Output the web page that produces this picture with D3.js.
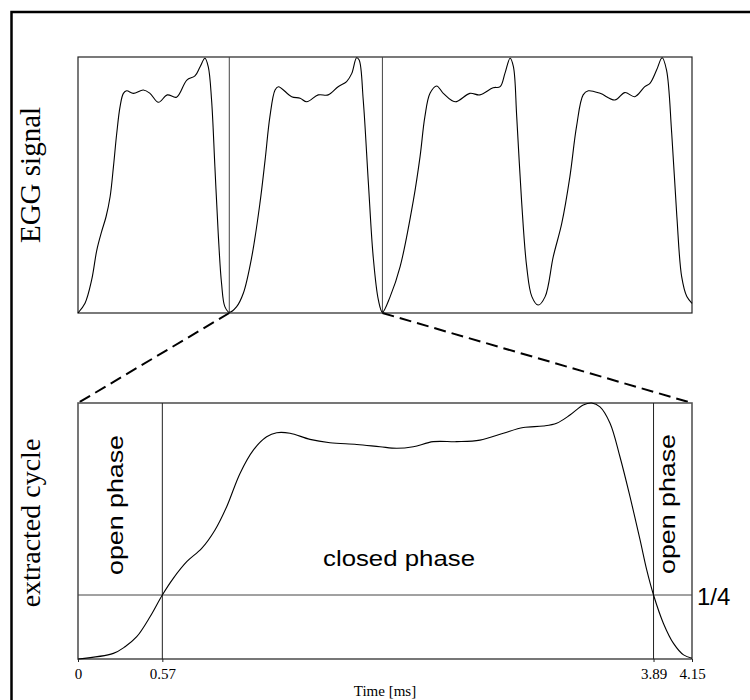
<!DOCTYPE html>
<html>
<head>
<meta charset="utf-8">
<script src="https://cdn.jsdelivr.net/npm/d3@7"></script>
<style>
  html, body { margin: 0; padding: 0; background: #fff; }
  svg { display: block; }
</style>
</head>
<body>
<svg id="chart" width="750" height="700"></svg>
<script>
// ---------- DATA ----------
// Top panel: EGG signal, time in ms (approx), normalized amplitude
const eggTime = [0,0.19,0.37,0.51,0.64,0.76,0.87,0.96,1.05,1.14,1.23,1.32,1.50,1.77,1.95,2.18,2.42,2.67,2.95,3.17,3.31,3.44,3.53,3.62,3.71,3.80,3.89,3.98,4.10,
  4.30,4.48,4.71,4.93,5.07,5.20,5.34,5.43,5.79,6.02,6.20,6.51,6.78,7.05,7.28,7.42,7.55,7.62,7.73,7.87,8.00,8.14,8.25,
  8.46,8.73,9.09,9.27,9.40,9.54,9.72,9.90,10.22,10.62,10.89,11.25,11.44,11.57,11.71,11.80,11.89,12.02,12.16,12.30,12.47,12.66,12.88,13.11,13.33,13.51,13.69,13.83,14.15,14.55,14.82,15.09,15.36,15.50,15.68,15.83,15.95,16.09,16.23,16.36,16.50,16.64];
const eggValue = [0,0.038,0.129,0.246,0.318,0.376,0.454,0.571,0.702,0.806,0.858,0.868,0.858,0.871,0.858,0.823,0.852,0.843,0.910,0.926,0.962,0.995,0.962,0.832,0.571,0.311,0.116,0.025,0.003,
  0.025,0.077,0.220,0.428,0.597,0.766,0.871,0.884,0.845,0.839,0.825,0.852,0.852,0.884,0.904,0.936,0.997,0.988,0.832,0.507,0.220,0.051,0.003,
  0.064,0.181,0.441,0.611,0.766,0.858,0.887,0.858,0.825,0.858,0.852,0.880,0.884,0.936,0.995,0.962,0.766,0.441,0.181,0.064,0.031,0.064,0.220,0.350,0.532,0.728,0.852,0.868,0.858,0.832,0.861,0.845,0.884,0.897,0.949,0.997,0.949,0.702,0.376,0.142,0.064,0.038];
const eggDomain = [0, 16.64];
const cycleBounds = [4.10, 8.25];

// Bottom panel: extracted cycle
const cycTime = [0,0.239,0.318,0.397,0.487,0.57,0.644,0.735,0.836,0.926,1.005,1.095,1.185,1.275,1.343,1.433,1.568,1.703,1.884,2.041,2.154,2.266,2.401,2.56,2.717,2.875,3.01,3.145,3.235,3.325,3.415,3.472,3.528,3.596,3.663,3.731,3.799,3.844,3.89,3.957,4.025,4.093,4.15];
const cycValue = [0,0.022,0.048,0.087,0.165,0.25,0.315,0.38,0.432,0.504,0.595,0.725,0.816,0.868,0.884,0.882,0.858,0.845,0.838,0.829,0.823,0.829,0.849,0.849,0.855,0.882,0.904,0.91,0.921,0.953,0.992,1.0,0.985,0.921,0.79,0.634,0.465,0.348,0.25,0.139,0.061,0.016,0.003];
const cycDomain = [0, 4.15];
const tickValues = [0, 0.57, 3.89, 4.15];
const tickLabels = ["0", "0.57", "3.89", "4.15"];
const phaseMarks = [0.57, 3.89];
const threshold = 0.25;
const thresholdLabel = "1/4";
const xAxisTitle = "Time [ms]";
const topLabel = "EGG signal";
const bottomLabel = "extracted cycle";
const openLabel = "open phase";
const closedLabel = "closed phase";

// ---------- LAYOUT ----------
const svg = d3.select("#chart");
const L = 78, R = 692;
const topP = {y0: 57, y1: 313};
const botP = {y0: 403, y1: 659};

const xTop = d3.scaleLinear().domain(eggDomain).range([L, R]);
const yTop = d3.scaleLinear().domain([0, 1]).range([topP.y1, topP.y0]);
const xBot = d3.scaleLinear().domain(cycDomain).range([L, R]);
const yBot = d3.scaleLinear().domain([0, 1]).range([botP.y1, botP.y0]);

// outer frame
svg.append("rect").attr("x", 11.5).attr("y", 12).attr("width", 900).attr("height", 900)
  .attr("fill", "none").attr("stroke", "#000").attr("stroke-width", 2.5);

// ---------- TOP PANEL ----------
svg.append("rect").attr("x", L).attr("y", topP.y0).attr("width", R - L).attr("height", topP.y1 - topP.y0)
  .attr("fill", "none").attr("stroke", "#222").attr("stroke-width", 1.2);
svg.selectAll("line.cb").data(cycleBounds).enter().append("line").attr("class", "cb")
  .attr("x1", d => xTop(d)).attr("x2", d => xTop(d))
  .attr("y1", topP.y0).attr("y2", topP.y1)
  .attr("stroke", "#444").attr("stroke-width", 1);

const eggPts = eggTime.map((t, i) => [t, eggValue[i]]);
svg.append("path").datum(eggPts)
  .attr("d", d3.line().x(d => xTop(d[0])).y(d => yTop(d[1])).curve(d3.curveCatmullRom.alpha(0.5)))
  .attr("fill", "none").attr("stroke", "#000").attr("stroke-width", 1.1);

// dashed connectors
svg.append("line").attr("x1", xTop(cycleBounds[0])).attr("y1", yTop(0))
  .attr("x2", xBot(cycDomain[0])).attr("y2", yBot(1))
  .attr("stroke", "#000").attr("stroke-width", 2).attr("stroke-dasharray", "12,6");
svg.append("line").attr("x1", xTop(cycleBounds[1])).attr("y1", yTop(0))
  .attr("x2", xBot(cycDomain[1])).attr("y2", yBot(1))
  .attr("stroke", "#000").attr("stroke-width", 2).attr("stroke-dasharray", "12,6");

// ---------- BOTTOM PANEL ----------
svg.append("rect").attr("x", L).attr("y", botP.y0).attr("width", R - L).attr("height", botP.y1 - botP.y0)
  .attr("fill", "none").attr("stroke", "#555").attr("stroke-width", 1.6);

svg.selectAll("line.pm").data(phaseMarks).enter().append("line").attr("class", "pm")
  .attr("x1", d => xBot(d)).attr("x2", d => xBot(d))
  .attr("y1", botP.y0).attr("y2", botP.y1)
  .attr("stroke", "#222").attr("stroke-width", 1);
svg.append("line").attr("x1", L).attr("x2", R).attr("y1", yBot(threshold)).attr("y2", yBot(threshold))
  .attr("stroke", "#444").attr("stroke-width", 1);

const cycPts = cycTime.map((t, i) => [t, cycValue[i]]);
svg.append("path").datum(cycPts)
  .attr("d", d3.line().x(d => xBot(d[0])).y(d => yBot(d[1])).curve(d3.curveCatmullRom.alpha(0.5)))
  .attr("fill", "none").attr("stroke", "#000").attr("stroke-width", 1.1);

// x axis
const axis = d3.axisBottom(xBot).tickValues(tickValues).tickSize(3).tickPadding(6)
  .tickFormat((d, i) => tickLabels[i]);
const gAx = svg.append("g").attr("transform", `translate(0,${botP.y1})`).call(axis);
gAx.select(".domain").remove();
gAx.selectAll("line").attr("stroke", "#222");
gAx.selectAll("text").attr("font-family", "'Liberation Serif', 'Times New Roman', serif")
  .attr("font-size", 15).attr("fill", "#000");

svg.append("text").attr("x", (L + R) / 2).attr("y", 696).attr("text-anchor", "middle")
  .attr("font-family", "'Liberation Serif', 'Times New Roman', serif").attr("font-size", 15)
  .text(xAxisTitle);

// ---------- LABELS ----------
const serif = "'Liberation Serif', 'Times New Roman', serif";
const sans = "'Liberation Sans', Arial, sans-serif";

svg.append("text").attr("transform", "translate(40,175) rotate(-90)").attr("text-anchor", "middle")
  .attr("font-family", serif).attr("font-size", 29).text(topLabel);
svg.append("text").attr("transform", "translate(40,523) rotate(-90)").attr("text-anchor", "middle")
  .attr("font-family", serif).attr("font-size", 28).text(bottomLabel);

function openPhase(x, y) {
  svg.append("text").attr("transform", `translate(${x},${y}) rotate(-90)`).attr("text-anchor", "middle")
    .attr("font-family", sans).attr("font-size", 22)
    .attr("textLength", 140).attr("lengthAdjust", "spacingAndGlyphs").text(openLabel);
}
openPhase(123, 505);
openPhase(675, 504);

svg.append("text").attr("x", 323).attr("y", 566)
  .attr("font-family", sans).attr("font-size", 22)
  .attr("textLength", 152).attr("lengthAdjust", "spacingAndGlyphs").text(closedLabel);

svg.append("text").attr("x", R + 5).attr("y", yBot(threshold) + 10)
  .attr("font-family", sans).attr("font-size", 24).text(thresholdLabel);
</script>
</body>
</html>
